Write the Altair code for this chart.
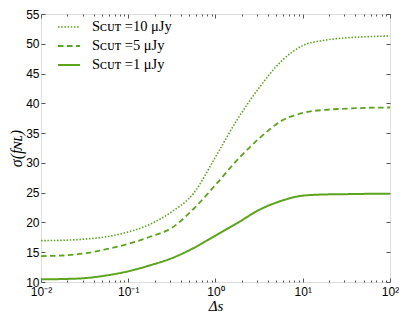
import altair as alt
import pandas as pd

# Δs sample positions (log-spaced)
ds = [0.01, 0.0178, 0.0316, 0.0562, 0.1, 0.178, 0.316, 0.562, 1.0,
      1.78, 3.16, 5.62, 10.0, 17.8, 31.6, 56.2, 100.0]

sigma_10 = [16.95, 17.0, 17.2, 17.6, 18.4, 19.7, 21.8, 24.9, 31.0,
            37.3, 42.6, 47.0, 49.7, 50.6, 51.0, 51.2, 51.3]
sigma_5 = [14.35, 14.45, 14.8, 15.5, 16.4, 17.6, 19.1, 22.3, 26.3,
           30.5, 34.1, 37.0, 38.4, 38.9, 39.1, 39.25, 39.3]
sigma_1 = [10.45, 10.5, 10.65, 11.1, 11.8, 12.8, 14.0, 15.7, 17.8,
           19.9, 22.1, 23.6, 24.5, 24.7, 24.75, 24.8, 24.8]

series_labels = ["Sᴄᴜᴛ =10 μJy", "Sᴄᴜᴛ =5 μJy", "Sᴄᴜᴛ =1 μJy"]
x_major = [0.01, 0.1, 1, 10, 100]
x_minor = [m * d for d in [0.01, 0.1, 1, 10] for m in [2, 3, 4, 5, 6, 7, 8, 9]]
y_ticks = [10, 15, 20, 25, 30, 35, 40, 45, 50, 55]

rows = []
for lab, vals in zip(series_labels, [sigma_10, sigma_5, sigma_1]):
    for x, v in zip(ds, vals):
        rows.append({"ds": x, "sigma": v, "series": lab})
df = pd.DataFrame(rows)

GREEN = "#5ba41c"
TICK = "#555555"
MAJ = "abs(log(datum.value)/LN10 - round(log(datum.value)/LN10)) < 0.01"
LABEL_EXPR = ("(" + MAJ + ") ? (datum.value < 0.05 ? '10⁻²' : datum.value < 0.5 ? '10⁻¹' : "
              "datum.value < 5 ? '10⁰' : datum.value < 50 ? '10¹' : '10²') : ''")

xscale = alt.Scale(type="log", domain=[0.01, 100])
yscale = alt.Scale(domain=[10, 55], nice=False, zero=False)

xtick_size = alt.ExprRef("(" + MAJ + ") ? -4 : -2")
LABEL_FONT = "Liberation Sans"

x_bottom = alt.Axis(orient="bottom", values=x_major + x_minor, labelExpr=LABEL_EXPR,
                    tickSize=xtick_size, tickWidth=1, tickColor=TICK, labelPadding=8,
                    labelFlush=False, labelOverlap=False, grid=False, domain=False,
                    labelFont=LABEL_FONT, labelFontSize=12, labelColor="#000000",
                    title="Δs", titleFont="Liberation Serif", titleFontSize=15,
                    titleFontWeight="normal", titleFontStyle="italic", titleColor="black",
                    titleY=28, titleBaseline="alphabetic")
y_left = alt.Axis(orient="left", values=y_ticks, tickSize=alt.ExprRef("-4"), tickWidth=1,
                  tickColor=TICK, labelPadding=6, grid=False, domain=False,
                  labelFont=LABEL_FONT, labelFontSize=12, labelColor="#000000",
                  labelFlush=False, labelOverlap=False,
                  title="σ(fɴʟ)", titleFont="Liberation Serif", titleFontSize=16,
                  titleFontWeight="normal", titleFontStyle="italic", titleColor="black",
                  titleX=-25, titleY=134, titleAngle=-90, titleBaseline="middle",
                  titleAlign="center")
x_top = alt.Axis(orient="top", values=x_major + x_minor, labels=False, tickSize=xtick_size,
                 tickWidth=1, tickColor=TICK, grid=False, domain=False, title=None)
y_right = alt.Axis(orient="right", values=y_ticks, labels=False, tickSize=alt.ExprRef("-4"),
                   tickWidth=1, tickColor=TICK, grid=False, domain=False, title=None)

leg = alt.Legend(title=None, orient="none", legendX=16, legendY=1,
                 symbolType="stroke", symbolSize=484, symbolStrokeWidth=2,
                 labelFont="Liberation Serif", labelFontSize=14.5, labelColor="black",
                 labelOffset=11, rowPadding=-10, padding=0)

lines = alt.Chart(df).mark_line(interpolate="monotone").encode(
    x=alt.X("ds:Q", scale=xscale, axis=x_bottom),
    y=alt.Y("sigma:Q", scale=yscale, axis=y_left),
    color=alt.Color("series:N", scale=alt.Scale(domain=series_labels, range=[GREEN] * 3),
                    legend=leg),
    strokeDash=alt.StrokeDash("series:N",
                              scale=alt.Scale(domain=series_labels,
                                              range=[[1.5, 1.7], [5.5, 3.5], [1, 0]]),
                              legend=leg),
    strokeWidth=alt.StrokeWidth("series:N",
                                scale=alt.Scale(domain=series_labels, range=[1.6, 2, 2]),
                                legend=None),
)

frame = alt.Chart(df).mark_line(opacity=0).encode(
    x=alt.X("ds:Q", scale=xscale, axis=x_top),
    y=alt.Y("sigma:Q", scale=yscale, axis=y_right),
    detail="series:N",
)

chart = alt.layer(lines, frame).resolve_axis(x="independent", y="independent").properties(
    width=349, height=268,
    autosize=alt.AutoSizeParams(type="none"),
    padding={"left": 33, "top": 6, "right": 9, "bottom": 31},
).configure_view(stroke="black", strokeWidth=1).configure_axis(
    labelColor="#000000", labelOpacity=1
).configure(background="white")

chart.save("out.html", embed_options={"renderer": "svg", "actions": False})
